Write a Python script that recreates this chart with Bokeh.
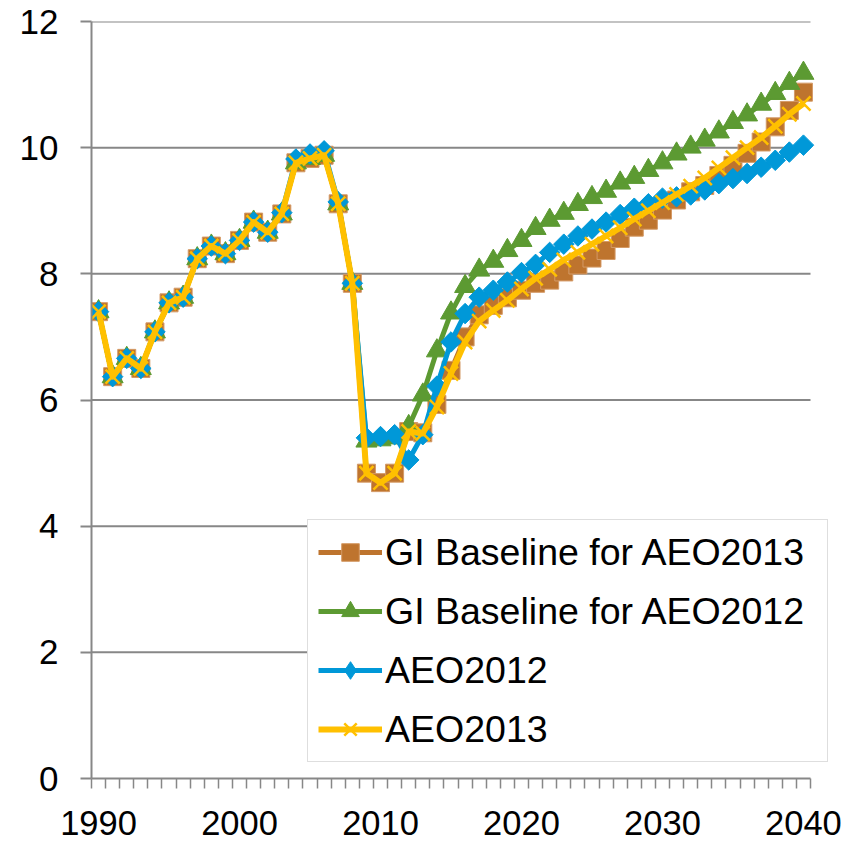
import numpy as np
from bokeh.plotting import figure
from bokeh.models import Range1d, FixedTicker, Legend, LegendItem
from bokeh.embed import file_html
from bokeh.resources import INLINE

years = list(range(1990, 2041))

history = [7.40, 6.37, 6.66, 6.50, 7.08, 7.54, 7.63, 8.24, 8.44, 8.32,
           8.53, 8.82, 8.66, 8.95, 9.76, 9.83, 9.88, 9.11, 7.85]
history_aeo2012 = [7.40, 6.37, 6.66, 6.50, 7.08, 7.54, 7.63, 8.24, 8.44, 8.32,
                   8.53, 8.82, 8.66, 8.97, 9.82, 9.90, 9.95, 9.14, 7.85]

gi_aeo2013_proj = [4.84, 4.69, 4.84, 5.50, 5.48, 5.93, 6.47, 7.00, 7.35, 7.50,
                   7.62, 7.74, 7.85, 7.90, 8.03, 8.14, 8.25, 8.37, 8.56, 8.74,
                   8.85, 9.01, 9.17, 9.30, 9.40, 9.56, 9.72, 9.91, 10.09, 10.33,
                   10.59, 10.88]
gi_aeo2012_proj = [5.35, 5.37, 5.40, 5.58, 6.08, 6.78, 7.38, 7.80, 8.06, 8.20,
                   8.37, 8.53, 8.72, 8.85, 8.96, 9.10, 9.21, 9.31, 9.44, 9.53,
                   9.64, 9.76, 9.90, 10.01, 10.12, 10.25, 10.40, 10.52, 10.69, 10.86,
                   11.02, 11.18]
aeo2012_proj = [5.40, 5.42, 5.45, 5.05, 5.45, 6.22, 6.92, 7.37, 7.63, 7.74,
                7.87, 8.02, 8.15, 8.34, 8.47, 8.60, 8.71, 8.82, 8.94, 9.04,
                9.11, 9.20, 9.22, 9.25, 9.33, 9.43, 9.51, 9.59, 9.69, 9.80,
                9.93, 10.04]
aeo2013_proj = [4.84, 4.69, 4.84, 5.50, 5.47, 5.89, 6.42, 6.92, 7.25, 7.42,
                7.58, 7.76, 7.93, 8.07, 8.22, 8.34, 8.47, 8.60, 8.73, 8.87,
                9.00, 9.13, 9.26, 9.39, 9.52, 9.68, 9.84, 10.00, 10.16, 10.34,
                10.53, 10.70]

gi_aeo2013 = history + gi_aeo2013_proj
gi_aeo2012 = history + gi_aeo2012_proj
aeo2012 = history_aeo2012 + aeo2012_proj
aeo2013 = history + aeo2013_proj

x_tick_labels = [1990, 2000, 2010, 2020, 2030, 2040]
y_ticks = [0, 2, 4, 6, 8, 10, 12]

FONT = "Liberation Sans"
GRID = "#878787"

# category axis: each year occupies one slot; the legend overhangs the axis end
x_start = years[0] - 0.5
x_end = years[-1] + 0.5
slot_px = 719 / len(years)
frame_w = 740
x_view_end = x_start + frame_w / slot_px

p = figure(frame_width=frame_w, frame_height=757, output_backend="svg",
           toolbar_location=None, min_border_left=91, min_border_top=21,
           min_border_right=13, min_border_bottom=64,
           x_range=Range1d(x_start, x_view_end), y_range=Range1d(0, 12))
p.outline_line_color = None
p.background_fill_color = "white"
p.border_fill_color = "white"

# gridlines limited to the category span
p.segment(x0=x_start, x1=x_end, y0=y_ticks[1:], y1=y_ticks[1:],
          line_color=GRID, line_width=2)

# axes
p.xaxis.bounds = (x_start, x_end)
p.xaxis.ticker = FixedTicker(ticks=x_tick_labels,
                             minor_ticks=[x_start + i for i in range(len(years) + 1)])
p.xaxis.major_tick_out = 0
p.xaxis.major_tick_in = 0
p.xaxis.minor_tick_out = 10
p.xaxis.minor_tick_in = 0
p.xaxis.minor_tick_line_color = GRID
p.xaxis.minor_tick_line_width = 1.5
p.xaxis.axis_line_color = GRID
p.xaxis.axis_line_width = 2
p.xaxis.major_label_standoff = 22

p.yaxis.ticker = FixedTicker(ticks=y_ticks)
p.yaxis.major_tick_out = 11
p.yaxis.major_tick_in = 0
p.yaxis.minor_tick_line_color = None
p.yaxis.major_tick_line_color = GRID
p.yaxis.major_tick_line_width = 2
p.yaxis.axis_line_color = GRID
p.yaxis.axis_line_width = 2
p.yaxis.major_label_standoff = 22

for ax in (p.xaxis, p.yaxis):
    ax.major_label_text_font = FONT
    ax.major_label_text_color = "black"
p.xaxis.major_label_text_font_size = "34.5px"
p.yaxis.major_label_text_font_size = "35px"

p.xgrid.grid_line_color = None
p.ygrid.grid_line_color = None

ORANGE = "#BE742E"
GREEN = "#5C9A32"
BLUE = "#0098D8"
YELLOW = "#FFC000"

items = []

l1 = p.line(years, gi_aeo2013, line_color=ORANGE, line_width=5, line_join="round")
s1 = p.scatter(years, gi_aeo2013, marker="square", size=18, fill_color=ORANGE,
               line_color="#D49A66", line_width=1)
items.append(LegendItem(label="GI Baseline for AEO2013", renderers=[l1, s1]))

l2 = p.line(years, gi_aeo2012, line_color=GREEN, line_width=5, line_join="round")
s2 = p.scatter(years, gi_aeo2012, marker="triangle", size=21, fill_color=GREEN,
               line_color=GREEN, line_width=1)
items.append(LegendItem(label="GI Baseline for AEO2012", renderers=[l2, s2]))

l3 = p.line(years, aeo2012, line_color=BLUE, line_width=5, line_join="round")
s3 = p.scatter(years, aeo2012, marker="square", angle=np.pi / 4, size=14.5,
               fill_color=BLUE, line_color=BLUE, line_width=1)
# legend-only key marker (the legend does not rotate markers); its point is
# missing (NaN) so nothing extra is drawn in the plot
s3_key = p.scatter(x=[years[0]], y=[float("nan")], marker="diamond", size=20,
                   fill_color=BLUE, line_color=BLUE, line_width=1)
items.append(LegendItem(label="AEO2012", renderers=[l3, s3_key]))

l4 = p.line(years, aeo2013, line_color=YELLOW, line_width=6, line_join="round")
s4 = p.scatter(years, aeo2013, marker="x", size=20, line_color=YELLOW, line_width=2.5)
items.append(LegendItem(label="AEO2013", renderers=[l4, s4]))

legend = Legend(items=items, location=(216, 16), margin=0, padding=10,
                spacing=15, glyph_width=64, glyph_height=44, label_height=40,
                label_width=432, label_standoff=3, label_text_font=FONT,
                label_text_font_size="37.5px", label_text_color="black",
                border_line_color="#BDBDBD", border_line_width=1.5,
                background_fill_color="white", background_fill_alpha=1.0)
p.add_layout(legend, "center")

open("out.html", "w").write(file_html(p, INLINE))
